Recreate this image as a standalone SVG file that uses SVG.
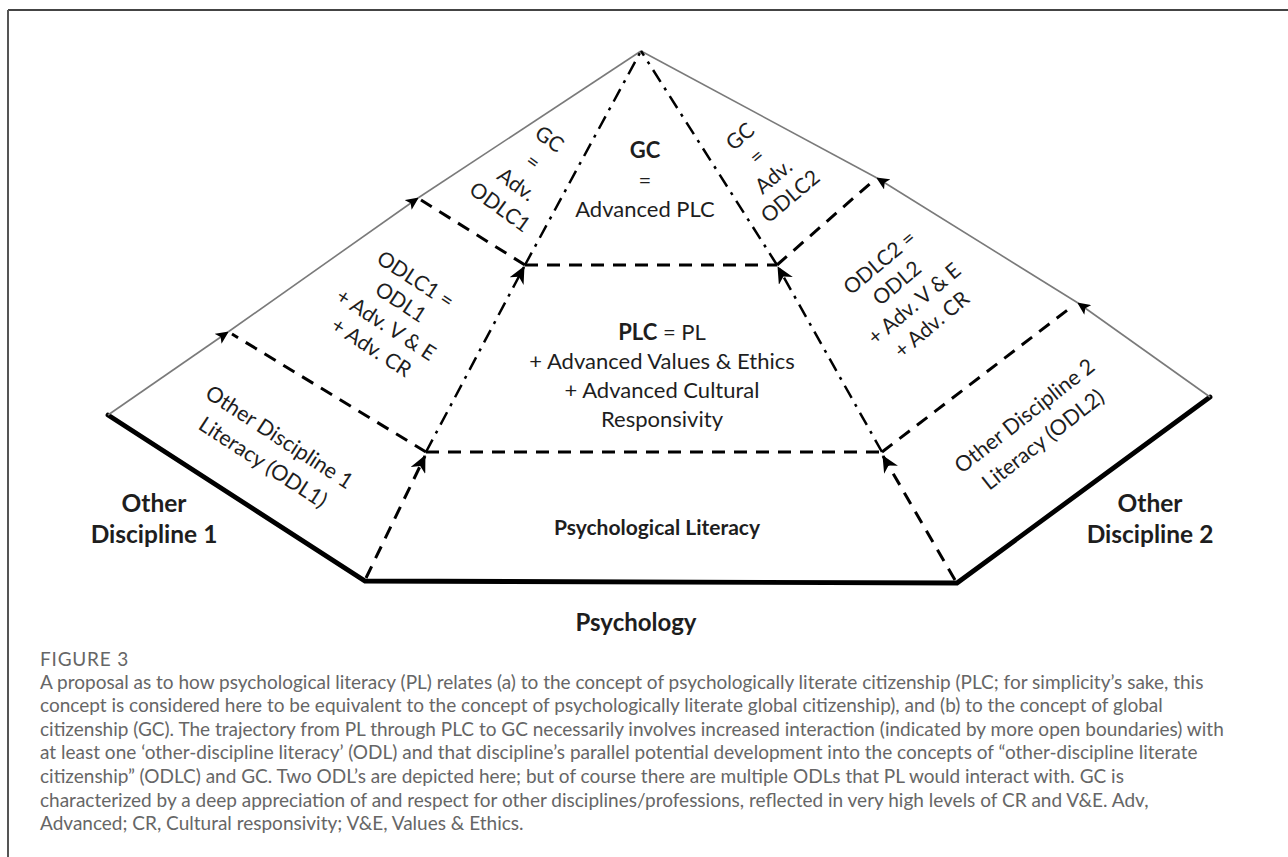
<svg xmlns="http://www.w3.org/2000/svg" width="1288" height="857" viewBox="0 0 1288 857">
<style>
.lbl{font-family:Lato,"Liberation Sans",sans-serif;fill:#1e1e1e;}
.b{font-weight:bold;}
.cap{font-family:Lato,"Open Sans","Liberation Sans",sans-serif;fill:#666;font-size:19px;}
.thick{stroke:#000;stroke-width:4.8;fill:none;stroke-linecap:round;}
.gray{stroke:#7a7a7a;stroke-width:1.6;fill:none;}
.dash{stroke:#000;stroke-width:3;fill:none;stroke-dasharray:13 9;}
.dd{stroke:#000;stroke-width:2.5;fill:none;stroke-dasharray:14 7 3 7;}
</style>
<defs>
<marker id="ah" markerUnits="userSpaceOnUse" markerWidth="18" markerHeight="16" refX="16" refY="8" orient="auto">
<path d="M0,0 L17,8 L0,16 L5,8 Z" fill="#000"/>
</marker>
<marker id="ahs" markerUnits="userSpaceOnUse" markerWidth="14" markerHeight="12" refX="12" refY="6" orient="auto">
<path d="M0,0 L13,6 L0,12 L3,6 Z" fill="#000"/>
</marker>
</defs>
<rect width="1288" height="857" fill="#fff"/>
<g id="frame">
<line x1="8" y1="10" x2="1288" y2="10" stroke="#444" stroke-width="2"/>
<line x1="8" y1="10" x2="8" y2="857" stroke="#555" stroke-width="2"/>
</g>
<g id="connectors">
<polyline class="thick" points="108,415 365,581 957,583 1210,397"/>
<line class="gray" x1="108" y1="415" x2="228" y2="332" marker-end="url(#ahs)"/>
<line class="gray" x1="228" y1="332" x2="418" y2="198" marker-end="url(#ahs)"/>
<line class="gray" x1="418" y1="198" x2="641" y2="51"/>
<line class="gray" x1="1210" y1="397" x2="1078" y2="303" marker-end="url(#ahs)"/>
<line class="gray" x1="1078" y1="303" x2="877" y2="178" marker-end="url(#ahs)"/>
<line class="gray" x1="877" y1="178" x2="641" y2="51"/>
<line class="dash" x1="426" y1="452" x2="882" y2="452"/>
<line class="dash" x1="525" y1="265" x2="777" y2="265"/>
<line class="dash" x1="426" y1="452" x2="232" y2="334"/>
<line class="dash" x1="525" y1="265" x2="421" y2="200"/>
<line class="dash" x1="882" y1="452" x2="1074" y2="305"/>
<line class="dash" x1="777" y1="265" x2="873" y2="181"/>
<line class="dash" x1="366" y1="578" x2="425" y2="456" marker-end="url(#ah)"/>
<line class="dash" x1="955" y1="580" x2="883" y2="456" marker-end="url(#ah)"/>
<line class="dd" x1="426" y1="452" x2="524" y2="267" marker-end="url(#ah)"/>
<line class="dd" x1="525" y1="265" x2="641" y2="51"/>
<line class="dd" x1="882" y1="452" x2="778" y2="267" marker-end="url(#ah)"/>
<line class="dd" x1="777" y1="265" x2="641" y2="51"/>
</g>
<g id="node-gc">
<text class="lbl b" x="645" y="158" font-size="22" text-anchor="middle">GC</text>
<text class="lbl" x="645" y="188" font-size="22" text-anchor="middle">=</text>
<text class="lbl" x="645" y="217" font-size="22" text-anchor="middle">Advanced PLC</text>
</g>
<g id="node-plc">
<text class="lbl" x="662" y="340" font-size="22" text-anchor="middle"><tspan class="b">PLC</tspan> = PL</text>
<text class="lbl" x="662" y="369" font-size="22" text-anchor="middle">+ Advanced Values &amp; Ethics</text>
<text class="lbl" x="662" y="398" font-size="22" text-anchor="middle">+ Advanced Cultural</text>
<text class="lbl" x="662" y="427" font-size="22" text-anchor="middle">Responsivity</text>
</g>
<g id="node-pl">
<text class="lbl b" x="657" y="535" font-size="21" text-anchor="middle">Psychological Literacy</text>
</g>
<g id="node-psychology">
<text class="lbl b" x="636" y="631" font-size="24" text-anchor="middle">Psychology</text>
</g>
<g id="node-od1">
<text class="lbl b" x="154" y="512" font-size="24.5" text-anchor="middle">Other</text>
<text class="lbl b" x="154" y="543" font-size="24.5" text-anchor="middle">Discipline 1</text>
</g>
<g id="node-od2">
<text class="lbl b" x="1150" y="512" font-size="24.5" text-anchor="middle">Other</text>
<text class="lbl b" x="1150" y="543" font-size="24.5" text-anchor="middle">Discipline 2</text>
</g>
<g id="node-odl1" transform="translate(271,450) rotate(33)">
<text class="lbl" x="0" y="-8" font-size="21.5" text-anchor="middle">Other Discipline 1</text>
<text class="lbl" x="0" y="22" font-size="21.5" text-anchor="middle">Literacy (ODL1)</text>
</g>
<g id="node-odlc1" transform="translate(393,314) rotate(33)">
<text class="lbl" x="0" y="-34" font-size="21" text-anchor="middle">ODLC1 =</text>
<text class="lbl" x="0" y="-7" font-size="21" text-anchor="middle">ODL1</text>
<text class="lbl" x="0" y="20" font-size="21" text-anchor="middle">+ Adv. V &amp; E</text>
<text class="lbl" x="0" y="47" font-size="21" text-anchor="middle">+ Adv. CR</text>
</g>
<g id="node-gc1" transform="translate(524,174) rotate(36)">
<text class="lbl" x="0" y="-36" font-size="21" text-anchor="middle">GC</text>
<text class="lbl" x="0" y="-8" font-size="21" text-anchor="middle">=</text>
<text class="lbl" x="0" y="20" font-size="21" text-anchor="middle">Adv.</text>
<text class="lbl" x="0" y="48" font-size="21" text-anchor="middle">ODLC1</text>
</g>
<g id="node-gc2" transform="translate(764,165) rotate(-40)">
<text class="lbl" x="0" y="-30" font-size="21" text-anchor="middle">GC</text>
<text class="lbl" x="0" y="-4" font-size="21" text-anchor="middle">=</text>
<text class="lbl" x="0" y="22" font-size="21" text-anchor="middle">Adv.</text>
<text class="lbl" x="0" y="48" font-size="21" text-anchor="middle">ODLC2</text>
</g>
<g id="node-odlc2" transform="translate(906,294) rotate(-40)">
<text class="lbl" x="0" y="-34" font-size="21" text-anchor="middle">ODLC2 =</text>
<text class="lbl" x="0" y="-7" font-size="21" text-anchor="middle">ODL2</text>
<text class="lbl" x="0" y="20" font-size="21" text-anchor="middle">+ Adv. V &amp; E</text>
<text class="lbl" x="0" y="47" font-size="21" text-anchor="middle">+ Adv. CR</text>
</g>
<g id="node-odl2" transform="translate(1034,428) rotate(-38)">
<text class="lbl" x="0" y="-8" font-size="21.5" text-anchor="middle">Other Discipline 2</text>
<text class="lbl" x="0" y="22" font-size="21.5" text-anchor="middle">Literacy (ODL2)</text>
</g>
<g id="caption">
<text class="cap" x="40" y="666" font-size="14" letter-spacing="0.8">FIGURE 3</text>
<text class="cap" x="40" y="689">A proposal as to how psychological literacy (PL) relates (a) to the concept of psychologically literate citizenship (PLC; for simplicity’s sake, this</text>
<text class="cap" x="40" y="712">concept is considered here to be equivalent to the concept of psychologically literate global citizenship), and (b) to the concept of global</text>
<text class="cap" x="40" y="736">citizenship (GC). The trajectory from PL through PLC to GC necessarily involves increased interaction (indicated by more open boundaries) with</text>
<text class="cap" x="40" y="759">at least one ‘other-discipline literacy’ (ODL) and that discipline’s parallel potential development into the concepts of “other-discipline literate</text>
<text class="cap" x="40" y="783">citizenship” (ODLC) and GC. Two ODL’s are depicted here; but of course there are multiple ODLs that PL would interact with. GC is</text>
<text class="cap" x="40" y="807">characterized by a deep appreciation of and respect for other disciplines/professions, reflected in very high levels of CR and V&amp;E. Adv,</text>
<text class="cap" x="40" y="830">Advanced; CR, Cultural responsivity; V&amp;E, Values &amp; Ethics.</text>
</g>
</svg>
